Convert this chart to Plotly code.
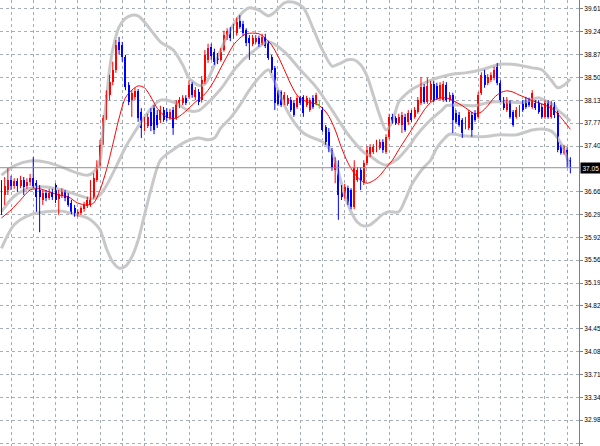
import plotly.graph_objects as go

# ---------------- price data ----------------
opens = [36.72,36.61,36.69,36.85,36.76,36.84,36.76,36.85,36.76,36.82,
         36.88,36.80,36.69,36.53,36.64,36.56,36.66,36.77,36.55,36.59,
         36.66,36.59,36.48,36.40,36.29,36.32,36.38,36.43,36.45,36.58,
         36.85,37.09,37.47,37.85,38.22,38.43,38.63,39.08,39.03,38.84,
         38.38,38.14,38.19,38.29,37.95,37.67,37.72,37.95,38.01,37.90,
         37.82,37.98,37.95,37.85,37.98,37.85,38.05,38.10,38.18,38.19,
         38.40,38.19,38.27,38.14,38.43,38.79,39.00,38.92,38.84,38.79,
         38.95,39.16,39.27,39.18,39.22,39.42,39.37,39.27,39.14,39.05,
         39.08,39.14,39.06,39.16,39.06,38.84,38.66,38.27,38.27,38.10,
         38.08,38.14,38.10,38.03,38.18,38.19,38.06,37.98,38.18,38.10,
         38.06,37.98,37.71,37.63,37.34,37.01,37.09,36.72,36.58,36.72,
         36.69,36.42,36.85,37.01,36.80,37.13,37.26,37.30,37.34,37.37,
         37.47,37.30,37.55,37.87,37.85,37.77,37.74,37.87,37.79,37.93,
         37.87,37.95,38.10,38.35,38.11,38.14,38.40,38.37,38.18,38.14,
         38.38,38.14,38.22,37.93,37.90,37.82,37.71,37.69,37.90,37.93,
         37.87,38.26,38.55,38.42,38.46,38.50,38.68,38.42,38.14,37.98,
         38.11,37.95,37.87,37.90,38.10,38.14,38.14,38.03,38.10,38.10,
         38.03,37.87,38.10,37.87,38.06,37.93,37.38,37.29,37.34,37.17]
highs = [36.85,36.90,37.05,36.92,36.88,36.88,36.92,36.90,36.88,36.95,
         37.22,36.85,36.77,36.69,36.69,36.71,36.71,36.80,36.69,36.72,
         36.69,36.64,36.53,36.45,36.38,36.43,36.50,36.58,36.85,36.96,
         37.17,37.50,37.90,38.30,38.55,38.76,39.11,39.16,39.08,38.87,
         38.43,38.30,38.34,38.32,38.01,37.87,37.92,38.01,38.06,37.98,
         38.05,38.03,38.01,38.00,38.03,38.14,38.19,38.22,38.22,38.46,
         38.43,38.35,38.32,38.53,38.95,39.05,39.05,38.97,38.90,38.98,
         39.26,39.30,39.32,39.37,39.47,39.51,39.42,39.30,39.19,39.19,
         39.19,39.18,39.21,39.21,39.09,38.87,38.69,38.30,38.30,38.27,
         38.22,38.19,38.14,38.21,38.21,38.22,38.21,38.18,38.22,38.26,
         38.13,38.03,37.74,37.69,37.37,37.22,37.17,36.77,36.79,36.76,
         36.72,37.17,37.06,37.06,37.17,37.40,37.43,37.43,37.50,37.51,
         37.51,37.59,37.92,37.92,37.88,37.92,37.95,37.92,37.98,37.98,
         38.03,38.19,38.51,38.40,38.50,38.45,38.45,38.42,38.43,38.45,
         38.43,38.27,38.26,37.98,37.95,37.85,37.87,37.98,37.95,37.98,
         38.27,38.59,38.63,38.56,38.59,38.68,38.74,38.46,38.19,38.19,
         38.14,37.98,38.03,38.06,38.14,38.19,38.18,38.30,38.14,38.14,
         38.08,38.14,38.14,38.13,38.11,37.97,37.42,37.42,37.38,37.22]
lows = [36.29,36.45,36.61,36.69,36.71,36.66,36.72,36.61,36.71,36.76,
        36.72,36.34,36.01,36.45,36.51,36.53,36.53,36.48,36.29,36.56,
        36.51,36.42,36.30,36.26,36.26,36.29,36.34,36.40,36.42,36.55,
        36.82,37.06,37.42,37.82,38.14,38.38,38.58,38.87,38.76,38.30,
        38.06,37.87,38.14,37.79,37.53,37.64,37.69,37.64,37.59,37.69,
        37.77,37.79,37.80,37.82,37.58,37.82,38.01,38.06,38.06,38.16,
        38.18,38.14,38.06,38.10,38.40,38.74,38.79,38.71,38.72,38.76,
        38.92,39.11,39.09,39.13,39.18,39.29,39.18,39.01,38.79,39.01,
        39.05,39.00,39.03,38.98,38.79,38.58,37.98,38.05,38.03,38.06,
        38.05,37.95,37.87,38.00,38.06,37.87,38.03,37.95,38.00,38.06,
        38.00,37.63,37.42,37.30,37.00,36.80,36.21,36.53,36.55,36.45,
        36.38,36.38,36.82,36.69,36.77,37.09,37.22,37.27,37.30,37.34,
        37.29,37.27,37.51,37.76,37.74,37.74,37.61,37.63,37.74,37.79,
        37.84,37.92,38.06,38.08,38.08,38.11,38.11,38.14,38.14,38.11,
        38.11,38.11,37.61,37.76,37.71,37.53,37.67,37.66,37.55,37.79,
        37.84,38.22,38.34,38.38,38.43,38.46,38.38,38.11,37.98,37.95,
        37.84,37.71,37.84,37.87,37.95,38.00,38.03,38.00,37.98,37.92,
        37.84,37.84,37.84,37.84,37.85,37.30,37.26,37.26,37.05,36.96]
closes = [36.34,36.76,36.85,36.76,36.84,36.76,36.85,36.74,36.82,36.88,
          36.76,36.58,36.58,36.64,36.56,36.64,36.58,36.53,36.63,36.66,
          36.56,36.45,36.34,36.30,36.34,36.40,36.45,36.53,36.58,36.88,
          37.09,37.42,37.85,38.22,38.43,38.63,39.03,38.95,38.84,38.35,
          38.11,38.26,38.29,37.85,37.69,37.82,37.87,37.72,37.66,37.74,
          37.98,37.82,37.85,37.95,37.69,38.10,38.14,38.18,38.10,38.38,
          38.22,38.30,38.11,38.46,38.87,38.98,38.85,38.76,38.79,38.92,
          39.19,39.26,39.14,39.30,39.40,39.32,39.22,39.06,39.06,39.14,
          39.14,39.05,39.16,39.01,38.82,38.63,38.10,38.08,38.06,38.22,
          38.18,37.98,37.90,38.18,38.10,37.93,38.18,38.14,38.03,38.22,
          38.06,37.66,37.47,37.34,37.05,37.17,36.61,36.58,36.74,36.48,
          36.42,37.06,37.01,36.85,37.13,37.34,37.38,37.38,37.45,37.47,
          37.34,37.55,37.87,37.79,37.77,37.87,37.90,37.66,37.93,37.82,
          37.98,38.14,38.35,38.11,38.37,38.40,38.14,38.18,38.38,38.40,
          38.14,38.22,37.82,37.79,37.74,37.61,37.82,37.95,37.66,37.82,
          38.22,38.55,38.38,38.51,38.55,38.63,38.42,38.14,38.01,38.14,
          37.87,37.74,37.98,38.01,37.98,38.03,38.06,38.26,38.01,37.95,
          37.87,38.10,37.87,38.06,37.90,37.34,37.29,37.38,37.17,37.05]

# Bollinger bands (upper / middle / lower), sampled at bar numbers
bb_up_bar = [0,4,9,14,19,23,27,29,31,32,33,34,35,37,39,41,43,45,47,50,54,57,59,62,64,66,69,72,75,78,81,84,86,89,92,95,98,101,104,106,109,111,113,115,117,119,121,123,125,128,130,135,141,146,151,157,162,167,170,173,175,177,179]
bb_up = [36.93,37.08,37.16,37.14,37.06,36.98,36.93,36.98,37.17,37.66,38.14,38.63,38.95,39.32,39.46,39.51,39.50,39.40,39.27,39.08,38.95,38.71,38.50,38.38,38.40,38.59,38.95,39.27,39.51,39.63,39.59,39.50,39.56,39.71,39.72,39.63,39.30,38.95,38.69,38.72,38.79,38.79,38.71,38.53,38.22,37.90,37.66,37.79,38.11,38.27,38.34,38.46,38.55,38.58,38.63,38.72,38.71,38.66,38.63,38.46,38.34,38.38,38.48]
bb_lo_bar = [0,4,9,14,19,23,27,29,31,33,35,37,39,41,43,45,47,50,54,58,62,65,67,69,72,75,78,81,84,86,89,92,95,98,101,104,106,108,110,112,114,116,118,120,122,125,127,129,131,133,135,137,139,141,146,151,157,162,167,171,173,175,177,179]
bb_lo = [35.75,36.13,36.29,36.34,36.35,36.30,36.24,36.17,36.05,35.75,35.53,35.43,35.46,35.61,35.88,36.29,36.69,37.17,37.34,37.47,37.53,37.50,37.53,37.69,37.85,38.06,38.30,38.50,38.63,38.43,38.06,37.79,37.61,37.53,37.47,37.30,36.98,36.61,36.34,36.17,36.11,36.13,36.21,36.30,36.34,36.34,36.53,36.77,36.93,37.06,37.17,37.37,37.50,37.59,37.56,37.55,37.58,37.58,37.66,37.67,37.64,37.53,37.34,37.05]
bb_mid_bar = [0,4,9,14,19,24,29,31,33,36,39,40,44,47,50,54,59,62,64,69,74,79,84,89,94,99,104,106,109,114,116,119,121,124,125,129,130,134,135,139,140,144,149,150,154,159,164,169,170,174,175,177,179]
bb_mid = [36.34,36.59,36.72,36.74,36.69,36.61,36.55,36.61,36.76,37.06,37.38,37.47,37.79,38.00,38.14,38.11,37.97,37.97,38.05,38.32,38.68,38.92,39.08,38.92,38.63,38.35,37.98,37.82,37.59,37.30,37.24,37.13,37.09,37.17,37.21,37.45,37.53,37.77,37.82,38.00,38.05,38.06,38.05,38.06,38.11,38.11,38.10,38.18,38.16,38.05,37.98,37.90,37.80]
# red moving average
ma_bar = [0,3,6,9,12,15,18,21,24,27,29,31,33,35,37,39,41,43,45,47,49,51,53,55,57,59,61,63,65,67,69,71,73,75,77,79,81,83,85,87,89,91,93,95,97,99,101,103,105,107,109,111,113,115,117,119,121,123,125,127,129,131,133,135,137,139,141,143,145,147,149,151,153,155,157,159,161,163,165,167,169,171,173,175,177,179]
ma = [36.24,36.37,36.53,36.69,36.71,36.66,36.61,36.58,36.48,36.45,36.48,36.69,37.01,37.42,37.85,38.18,38.30,38.37,38.34,38.19,38.01,37.90,37.85,37.85,37.92,38.01,38.11,38.19,38.30,38.46,38.66,38.85,39.03,39.14,39.21,39.22,39.21,39.14,39.03,38.85,38.63,38.40,38.22,38.14,38.10,38.08,38.01,37.88,37.66,37.37,37.13,36.96,36.85,36.80,36.84,36.92,37.05,37.17,37.34,37.50,37.66,37.82,37.98,38.10,38.16,38.18,38.16,38.11,38.05,37.98,37.92,37.95,38.05,38.18,38.26,38.29,38.27,38.22,38.18,38.13,38.10,38.06,38.01,37.92,37.80,37.67]

tick_labels = ["39.61","39.24","38.87","38.50","38.13","37.77","37.40",
               "36.66","36.29","35.92","35.56","35.19","34.82","34.45",
               "34.08","33.71","33.34","32.98","32.61"]
tick_vals = [float(t) for t in tick_labels]
last_price = 37.05
last_label = "37.05"

# ---------------- styling ----------------
FONT = "Liberation Sans"
UP, DOWN, DOJI = "#ff0000", "#0000ff", "#00ff00"
BAND = "#c8c8c8"
GRID = "#a3adbb"

fig = go.Figure()
for bx, by in ((bb_up_bar, bb_up), (bb_mid_bar, bb_mid), (bb_lo_bar, bb_lo)):
    fig.add_trace(go.Scatter(x=bx, y=by, mode="lines",
                             line=dict(color=BAND, width=3, shape="spline", smoothing=0.8),
                             hoverinfo="skip"))

fig.add_trace(go.Scatter(x=ma_bar, y=ma, mode="lines",
                         line=dict(color="#ff0000", width=1, shape="spline", smoothing=0.8),
                         hoverinfo="skip"))

n = len(closes)
groups = {UP: [], DOWN: [], DOJI: []}
for i in range(n):
    if closes[i] > opens[i]:
        groups[UP].append(i)
    elif closes[i] < opens[i]:
        groups[DOWN].append(i)
    else:
        groups[DOJI].append(i)

for col, sel in groups.items():
    if not sel:
        continue
    wx, wy = [], []
    for i in sel:
        wx += [i, i, None]
        wy += [lows[i], highs[i], None]
    fig.add_trace(go.Scatter(x=wx, y=wy, mode="lines", line=dict(color=col, width=1),
                             hoverinfo="skip"))
    fig.add_trace(go.Bar(x=sel, base=[min(opens[i], closes[i]) for i in sel],
                         y=[max(abs(closes[i] - opens[i]), 0.012) for i in sel],
                         width=0.62, marker=dict(color=col, line=dict(width=0)),
                         hoverinfo="skip"))

fig.add_hline(y=last_price, line=dict(color="#909090", width=1))
fig.add_annotation(x=1, xref="paper", xanchor="left", xshift=1, y=last_price, yref="y",
                   text=last_label, showarrow=False, bgcolor="#000000",
                   font=dict(color="#ffffff", size=6.5, family=FONT), borderpad=1.5)

fig.update_layout(width=600, height=446, margin=dict(l=0, r=21, t=0, b=0, autoexpand=False),
                  paper_bgcolor="#ffffff", plot_bgcolor="#ffffff", showlegend=False,
                  barmode="overlay", bargap=0, hovermode=False)
fig.update_xaxes(range=[-0.47, 181.72], tickvals=list(range(3, 182, 7)), showticklabels=False,
                 showgrid=True, gridcolor=GRID, griddash="3px,3px", gridwidth=1,
                 zeroline=False, showline=False, ticks="")
fig.update_yaxes(side="right", range=[32.562, 39.755], tickvals=tick_vals, ticktext=tick_labels,
                 showgrid=True, gridcolor=GRID, griddash="3px,3px", gridwidth=1,
                 zeroline=False, showline=True, linecolor="#808080", linewidth=1,
                 ticks="outside", ticklen=3, tickcolor="#808080",
                 tickfont=dict(size=6.5, color="#000000", family=FONT))
fig.write_html("out.html", config={"displayModeBar": False, "staticPlot": True},
               post_script="document.body.style.margin='0px';document.body.style.overflow='hidden';")
